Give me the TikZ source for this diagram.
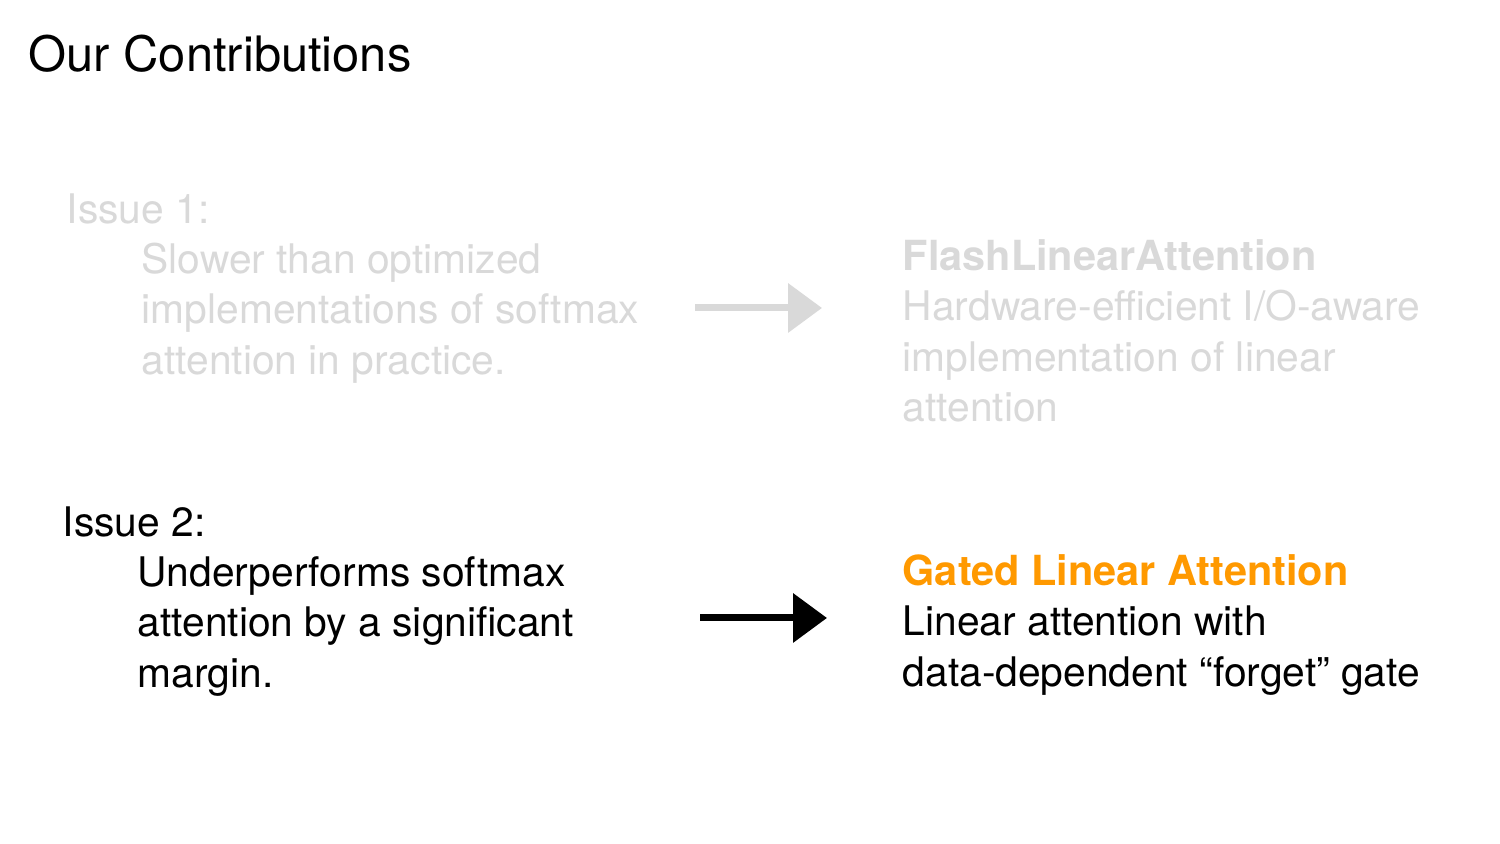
\documentclass[tikz,border=0pt]{standalone}
\usepackage{fontspec}
\setmainfont{TeX Gyre Heros}
\usetikzlibrary{arrows.meta}
\definecolor{faded}{RGB}{217,217,217}
\definecolor{gla}{RGB}{255,153,0}
\newcommand{\blocktext}[1]{\begin{tabular}[t]{@{}l@{}}#1\end{tabular}}
\newcommand{\headbold}[1]{{\fontsize{11.8}{14.23}\selectfont\bfseries #1}}
\tikzset{
  txt/.style={anchor=base west, inner sep=0pt, font=\fontsize{11.6}{14.23}\selectfont},
  bigarrow/.style={line width=0.07cm, -{Triangle[length=0.34cm,width=0.48cm]}},
}
\begin{document}
\begin{tikzpicture}
\fill[white] (0,0) rectangle (15,8.44);
\useasboundingbox (0,0) rectangle (15,8.44);
\node[txt, font=\fontsize{13.9}{16}\selectfont] (title) at (0.28,7.72) {Our Contributions};
% Issue 1 (faded)
\node[txt, text=faded] (i1) at (0.66,6.20) {Issue 1:};
\node[txt, text=faded] (i1body) at (1.41,5.70) {\blocktext{Slower than optimized\\implementations of softmax\\attention in practice.}};
\node[txt, text=faded] (fla) at (9.02,5.73) {\blocktext{\headbold{FlashLinearAttention}\\Hardware-efficient I/O-aware\\implementation of linear\\attention}};
\coordinate (a1s) at (6.95,5.36);
\coordinate (a1e) at (8.22,5.36);
\draw[bigarrow, faded] (a1s) -- (a1e);
% Issue 2
\node[txt] (i2) at (0.62,3.07) {Issue 2:};
\node[txt] (i2body) at (1.37,2.57) {\blocktext{Underperforms softmax\\attention by a significant\\margin.}};
\node[txt] (glaname) at (9.02,2.58) {\blocktext{\textcolor{gla}{\headbold{Gated Linear Attention}}\\Linear attention with\\data-dependent “forget” gate}};
\coordinate (a2s) at (7.00,2.26);
\coordinate (a2e) at (8.27,2.26);
\draw[bigarrow, black] (a2s) -- (a2e);
\end{tikzpicture}
\end{document}
